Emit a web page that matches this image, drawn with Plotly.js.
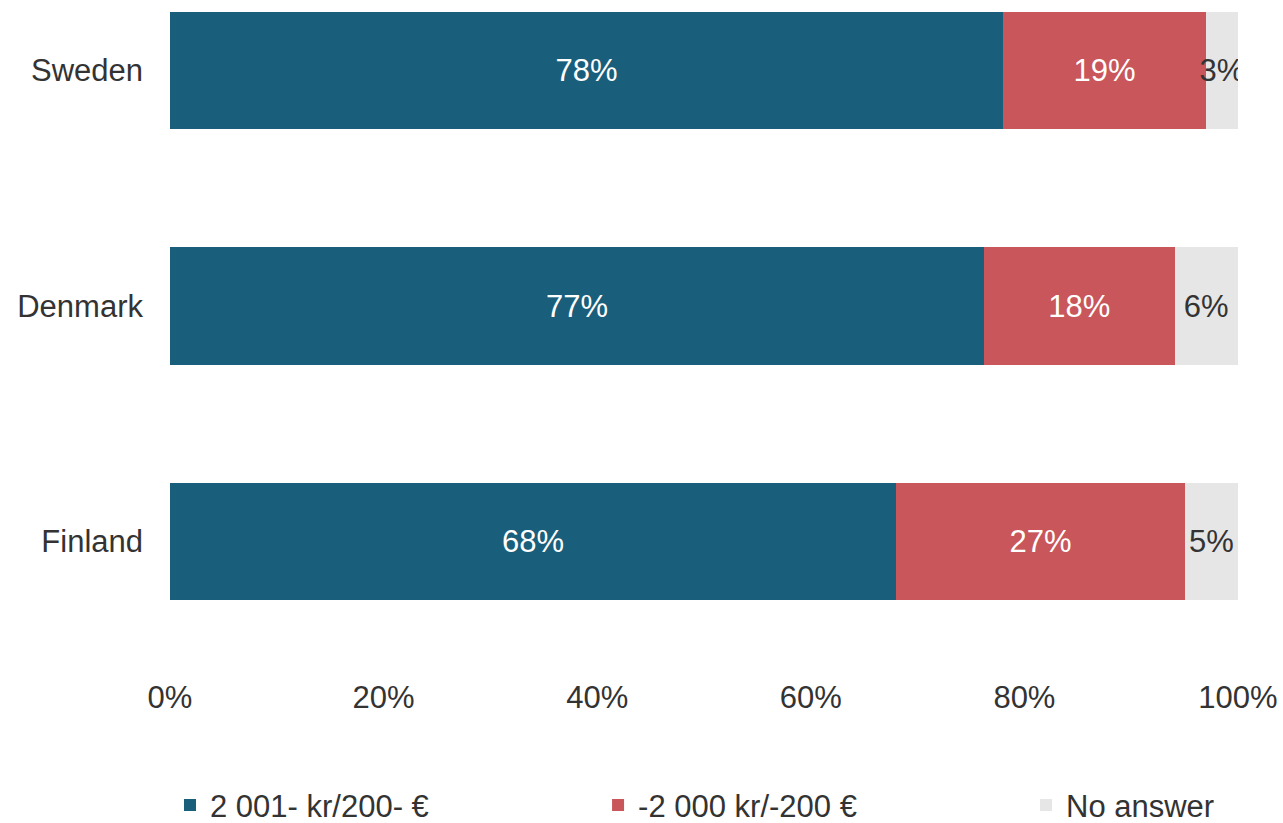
<!DOCTYPE html>
<html>
<head>
<meta charset="utf-8">
<script src="https://cdn.plot.ly/plotly-3.0.1.min.js"></script>
<style>html,body{margin:0;padding:0;background:#fff;}#chart{width:1283px;height:823px;}</style>
</head>
<body>
<div id="chart"></div>
<script>
const countries = ['Sweden', 'Denmark', 'Finland'];
const seriesNames = ['2 001- kr/200- €', '-2 000 kr/-200 €', 'No answer'];
const highShare = [78, 77, 68];
const lowShare = [19, 18, 27];
const noAnswer = [3, 6, 5];
const xTickVals = [0, 20, 40, 60, 80, 100];
const xTickText = ['0%', '20%', '40%', '60%', '80%', '100%'];

const colors = ['#195E7B', '#C8565A', '#E6E6E6'];
const textColors = ['#FFFFFF', '#FFFFFF', '#333333'];
const values = [highShare, lowShare, noAnswer];
const legendIds = ['legend', 'legend2', 'legend3'];
const legendX = [0, 0.4008, 0.8015];
const FONT = 'Liberation Sans, Arial, sans-serif';
const FS = 31;

const traces = values.map((vals, i) => ({
  type: 'bar',
  orientation: 'h',
  name: seriesNames[i],
  legend: legendIds[i],
  y: countries,
  x: vals,
  text: vals.map(v => v + '%'),
  texttemplate: '%{text}',
  textposition: 'inside',
  insidetextanchor: 'middle',
  constraintext: 'none',
  textangle: 0,
  textfont: {family: FONT, size: FS, color: textColors[i]},
  marker: {color: colors[i], line: {width: 0}},
  width: 0.497,
  hoverinfo: 'skip'
}));

function legendBox(x) {
  return {
    orientation: 'h',
    x: x,
    xref: 'paper',
    xanchor: 'left',
    y: 0.0215,
    yref: 'container',
    yanchor: 'middle',
    font: {family: FONT, size: FS, color: '#333333'},
    bgcolor: 'rgba(0,0,0,0)',
    itemclick: false,
    itemdoubleclick: false
  };
}

const layout = {
  width: 1283,
  height: 823,
  barmode: 'stack',
  barnorm: 'percent',
  paper_bgcolor: '#ffffff',
  plot_bgcolor: '#ffffff',
  margin: {l: 170, r: 45, t: 12, b: 147, autoexpand: false},
  font: {family: FONT, size: FS, color: '#333333'},
  showlegend: true,
  xaxis: {
    range: [0, 100],
    tickvals: xTickVals,
    ticktext: xTickText,
    showgrid: false,
    zeroline: false,
    showline: false,
    ticks: '',
    tickfont: {family: FONT, size: FS, color: '#333333'},
    fixedrange: true
  },
  yaxis: {
    type: 'category',
    categoryorder: 'array',
    categoryarray: countries,
    range: [2.571, -0.2484],
    showgrid: false,
    zeroline: false,
    showline: false,
    ticks: '',
    ticklabelstandoff: 26,
    tickfont: {family: FONT, size: FS, color: '#333333'},
    fixedrange: true
  },
  legend: legendBox(legendX[0]),
  legend2: legendBox(legendX[1]),
  legend3: legendBox(legendX[2])
};

Plotly.newPlot('chart', traces, layout, {displayModeBar: false, staticPlot: true});
</script>
</body>
</html>
